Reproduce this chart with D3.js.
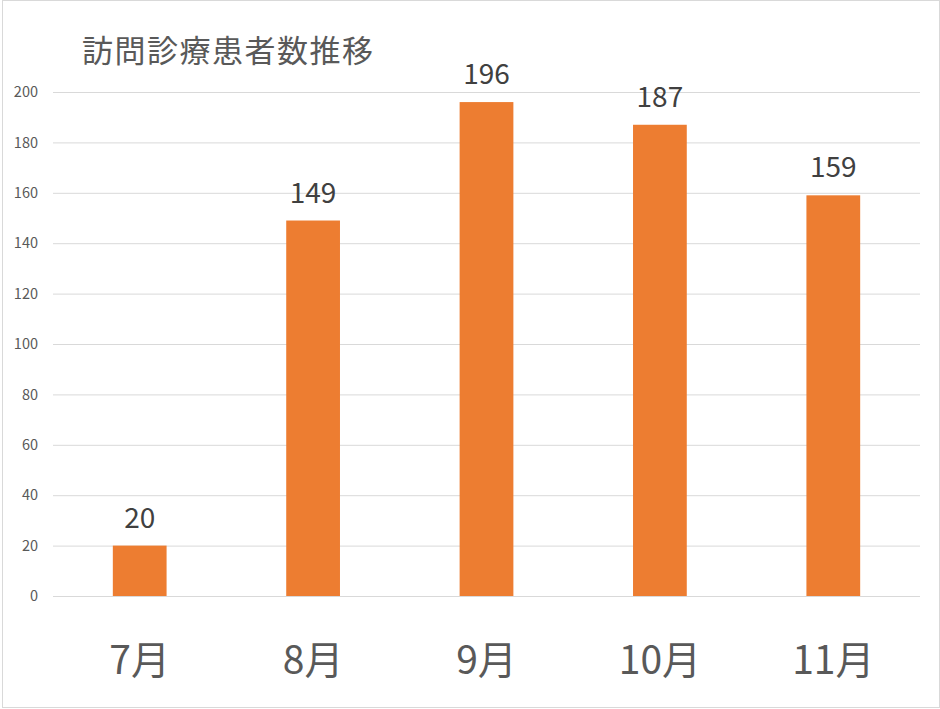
<!DOCTYPE html>
<html>
<head>
<meta charset="utf-8">
<script src="https://cdn.jsdelivr.net/npm/d3@7"></script>
<style>
  body { margin: 0; background: #fff; }
  svg { display: block; }
</style>
</head>
<body>
<div id="chart"></div>
<script>
const months = ['7月', '8月', '9月', '10月', '11月'];
const patients = [20, 149, 196, 187, 159];
const yTicks = [0, 20, 40, 60, 80, 100, 120, 140, 160, 180, 200];
const title = '訪問診療患者数推移';

const width = 940;
const height = 709;
const margin = { top: 92, right: 20, bottom: 113, left: 53 };
const font = '"Noto Sans CJK JP", "Noto Sans", sans-serif';

const data = months.map((m, i) => ({ month: m, value: patients[i] }));

const x = d3.scaleBand()
    .domain(months)
    .range([margin.left, width - margin.right])
    .paddingInner(0.69)
    .paddingOuter(0.345);

const y = d3.scaleLinear()
    .domain([0, 200])
    .range([height - margin.bottom, margin.top]);

const svg = d3.select('#chart')
    .append('svg')
    .attr('width', width)
    .attr('height', height);

// 外枠
svg.append('rect')
    .attr('x', 2.5)
    .attr('y', 0.5)
    .attr('width', width - 3)
    .attr('height', height - 2)
    .attr('fill', 'none')
    .attr('stroke', '#d9d9d9');

// グリッド + y軸
const yAxis = svg.append('g')
    .attr('transform', `translate(${margin.left}, 0)`)
    .call(d3.axisLeft(y)
        .tickValues(yTicks)
        .tickSize(-(width - margin.left - margin.right))
        .tickPadding(15));

yAxis.select('.domain').remove();
yAxis.selectAll('.tick line')
    .attr('stroke', '#d9d9d9')
    .attr('stroke-width', 1);
yAxis.selectAll('.tick text')
    .attr('fill', '#595959')
    .attr('font-family', font)
    .attr('font-size', '14.5px');

// x軸ラベル
const xAxis = svg.append('g')
    .attr('transform', `translate(0, ${height - margin.bottom})`)
    .call(d3.axisBottom(x).tickSize(0).tickPadding(50));

xAxis.select('.domain').remove();
xAxis.selectAll('.tick text')
    .attr('fill', '#595959')
    .attr('font-family', font)
    .attr('font-size', '39px');

// 棒
svg.selectAll('rect.bar')
    .data(data)
    .join('rect')
    .attr('class', 'bar')
    .attr('x', d => x(d.month))
    .attr('y', d => y(d.value))
    .attr('width', x.bandwidth())
    .attr('height', d => y(0) - y(d.value))
    .attr('fill', '#ed7d31');

// データラベル
svg.selectAll('text.label')
    .data(data)
    .join('text')
    .attr('class', 'label')
    .attr('x', d => x(d.month) + x.bandwidth() / 2)
    .attr('y', d => y(d.value) - 18)
    .attr('text-anchor', 'middle')
    .attr('fill', '#404040')
    .attr('font-family', font)
    .attr('font-size', '28px')
    .text(d => d.value);

// タイトル
svg.append('text')
    .attr('x', 82)
    .attr('y', 62)
    .attr('fill', '#595959')
    .attr('font-family', font)
    .attr('font-size', '31px')
    .attr('letter-spacing', '1.5px')
    .text(title);
</script>
</body>
</html>
